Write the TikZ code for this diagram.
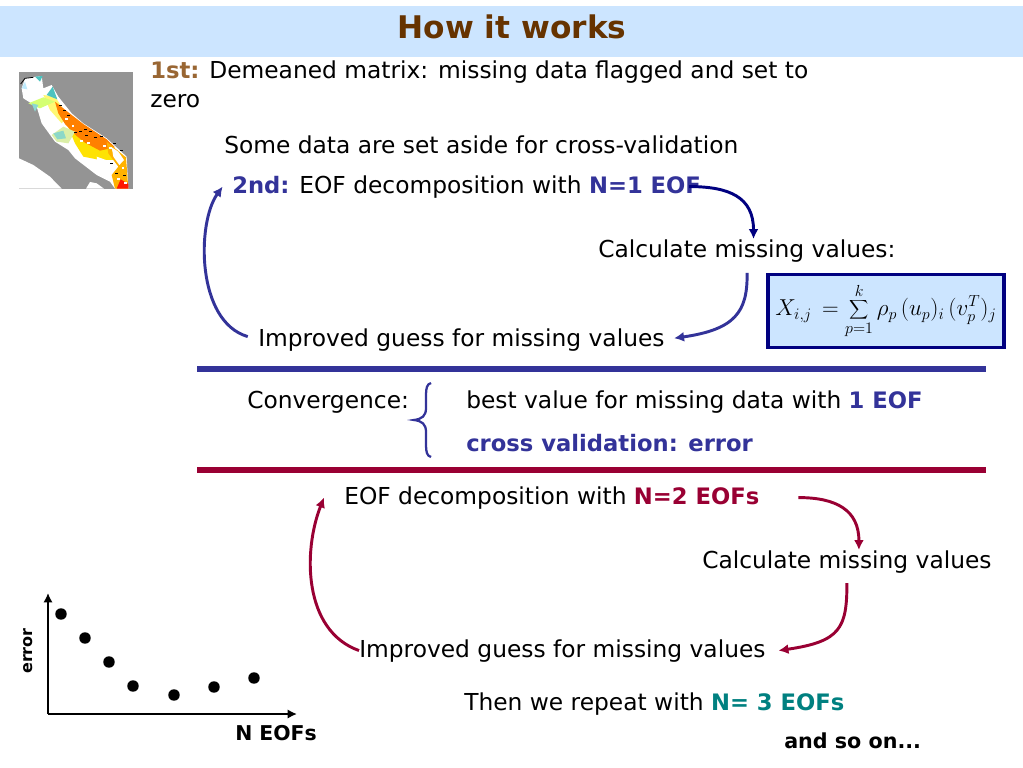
\documentclass[tikz,border=0pt]{standalone}
\usepackage{fontspec}
\setmainfont{DejaVu Sans}
\usepackage{xcolor}
\usetikzlibrary{positioning, arrows.meta}

\definecolor{barblue}{HTML}{CCE5FF}
\definecolor{titlebrown}{HTML}{663300}
\definecolor{firstbrown}{HTML}{996633}
\definecolor{loopblue}{HTML}{333399}
\definecolor{navyblue}{HTML}{000080}
\definecolor{loopred}{HTML}{990033}
\definecolor{tealgreen}{HTML}{008080}

\newcommand{\hl}[2]{\textcolor{#1}{\fontsize{17}{21.75}\selectfont\bfseries #2}}

\tikzset{
	txt/.style={inner sep=0pt, anchor=base west, font=\fontsize{17.5}{21.75}\selectfont},
	bluearrow/.style={loopblue, line width=2.2pt, -{Latex[length=7.5pt,width=7.5pt]}},
	redarrow/.style={loopred, line width=2.2pt, -{Latex[length=7.5pt,width=7.5pt]}},
	rulebar/.style={line width=3.8pt},
	dot/.style={circle, fill=black, inner sep=0pt, minimum size=8.6pt},
	axis/.style={line width=2.2pt, -{Latex[length=7pt,width=7pt]}},
	small/.style={inner sep=0pt, font=\fontsize{12}{14}\selectfont\bfseries}
}

\begin{document}
\begin{tikzpicture}[x=0.75pt, y=-0.75pt]
	\useasboundingbox (0,0) rectangle (1023,767);
	\fill[white] (0,0) rectangle (1023,767);

	% title bar
	\fill[barblue] (0,6) rectangle (1023,57);
	\node[inner sep=0pt, anchor=base, text=titlebrown, font=\fontsize{23.4}{28}\selectfont\bfseries] (title) at (512,39) {How it works};

	% map
	\begin{scope}[shift={(0,60)}, scale=1/3]
		\fill[black!42] (57,37) rectangle (398,386);
		\fill[white] (57,295) -- (100,315) -- (150,350) -- (185,386) -- (57,386) -- cycle;
		\fill[white] (258,386) -- (270,366) -- (290,370) -- (312,386) -- cycle;
		\fill[white] (65,85) -- (75,55) -- (125,48) -- (130,85) -- (155,75) -- (175,110) -- (215,160) -- (250,190) -- (320,235) -- (380,290) -- (385,386) -- (345,386) -- (330,365) -- (290,345) -- (225,295) -- (205,270) -- (165,245) -- (125,190) -- (110,140) -- (70,115) -- cycle;
		\fill[yellow!55!white] (130,105) -- (165,110) -- (205,170) -- (185,190) -- (150,150) -- cycle;
		\fill[yellow!85!orange] (200,190) -- (255,240) -- (320,262) -- (345,300) -- (300,300) -- (250,290) -- (225,250) -- cycle;
		\fill[orange] (165,125) -- (215,165) -- (250,192) -- (320,238) -- (345,262) -- (300,272) -- (255,248) -- (230,228) -- (195,192) -- (175,160) -- cycle;
		\fill[orange!60!yellow] (320,245) -- (378,292) -- (385,386) -- (345,386) -- (335,345) -- (355,320) -- (325,280) -- cycle;
		\fill[white] (335,262) -- (355,275) -- (372,300) -- (358,315) -- (340,290) -- cycle;
		\fill[white] (290,290) -- (318,300) -- (325,340) -- (295,325) -- cycle;
		\fill[red!80!orange] (350,386) -- (362,358) -- (385,372) -- (385,386) -- cycle;
		\fill[green!30!yellow!55] (85,130) -- (130,112) -- (165,125) -- (120,145) -- cycle;
		\fill[yellow!60!green!35] (155,225) -- (190,200) -- (225,215) -- (205,250) -- (170,245) -- cycle;
		\fill[cyan!50!green!45] (160,220) -- (190,212) -- (198,235) -- (172,238) -- cycle;
		\fill[cyan!60!green!45] (95,130) -- (115,135) -- (105,155) -- cycle;
		\fill[cyan!60!green!70] (140,105) -- (158,80) -- (172,118) -- cycle;
		\fill[cyan!60!green!70] (105,50) -- (128,48) -- (120,65) -- cycle;
		\fill[cyan!25] (65,85) -- (75,65) -- (82,88) -- cycle;
		\foreach \sx/\sy in {222/215, 238/212, 252/208, 268/212, 255/225, 282/232, 300/228, 200/165, 190/150, 178/135, 340/250, 360/270, 345/340, 370/345, 330/310}
			\fill[black] (\sx,\sy) rectangle +(9,3);
		\foreach \sx/\sy in {215/195, 262/245, 310/255, 328/262, 365/320, 352/355, 372/365, 240/240, 195/175}
			\fill[white] (\sx,\sy) rectangle +(8,6);
		\draw[black, line width=0.6pt] (62,72) -- (75,55) -- (100,52);
	\end{scope}

	% first loop
	\node[txt, align=left, anchor=north west] (first) at (150,61) {\hl{firstbrown}{1st:} Demeaned matrix: missing data flagged and set to\\zero};
	\node[txt] (aside) at (224,153) {Some data are set aside for cross-validation};
	\node[txt] (eofone) at (232,193) {\hl{loopblue}{2nd:} EOF decomposition with \hl{loopblue}{N=1 EOF}};
	\node[txt] (calcone) at (598,257) {Calculate missing values:};
	\node[txt] (guessone) at (258,346) {Improved guess for missing values};

	\draw[bluearrow, navyblue] ([xshift=-9pt]eofone.east) .. controls +(40,0) and +(0,-42) .. ([xshift=5pt]calcone.north);
	\draw[bluearrow, shorten <=8pt, shorten >=7pt] (calcone.south) .. controls +(1,50) and +(70,-10) .. (guessone.east);
	\draw[bluearrow, shorten <=8pt] (guessone.west) .. controls +(-62,-18) and +(-26,36) .. ([xshift=-7pt]eofone.west);

	% formula
	\node[draw=navyblue, fill=barblue, line width=2.6pt, minimum width=177pt, minimum height=55pt, inner sep=0pt, font=\fontsize{17}{19}\selectfont] (formula) at (886,311) {$\displaystyle X_{i,j}\,=\sum_{p=1}^{k}\rho_{p}\,(u_{p})_{i}\,(v_{p}^{T})_{j}$};

	\draw[rulebar, loopblue] (197,369) -- (986,369);

	% convergence
	\node[txt] (conv) at (247,408) {Convergence:};
	\node[txt] (best) at (466,408) {best value for missing data with \hl{loopblue}{1 EOF}};
	\node[txt] (cross) at (466,451) {\hl{loopblue}{cross validation: error}};
	\draw[loopblue, line width=1.7pt] (431,383) .. controls (427,384) and (426,388) .. (426,395) -- (426,408) .. controls (426,416) and (422,419) .. (414,420) .. controls (422,421) and (426,424) .. (426,432) -- (426,445) .. controls (426,452) and (427,456) .. (431,457);

	\draw[rulebar, loopred] (197,470) -- (986,470);

	% second loop
	\node[txt] (eoftwo) at (344,504) {EOF decomposition with \hl{loopred}{N=2 EOFs}};
	\node[txt] (calctwo) at (702,568) {Calculate missing values};
	\node[txt] (guesstwo) at (359,657) {Improved guess for missing values};

	\draw[redarrow] ([xshift=29pt]eoftwo.east) .. controls +(38,0) and +(0,-40) .. ([xshift=9pt]calctwo.north);
	\draw[redarrow, shorten <=7.5pt] (calctwo.south) .. controls +(0,55) and +(62,-9) .. ([xshift=9.5pt]guesstwo.east);
	\draw[redarrow] (guesstwo.west) .. controls +(-56,-20) and +(-21,53) .. ([xshift=-15pt]eoftwo.west);

	\node[txt] (repeat) at (464,710) {Then we repeat with \hl{tealgreen}{N= 3 EOFs}};
	\node[txt, font=\fontsize{15.5}{21.75}\selectfont\bfseries] (soon) at (784,748) {and so on...};

	% error plot
	\coordinate (origin) at (48,714);
	\coordinate (ytop) at (48,593);
	\coordinate (xend) at (297,714);
	\draw[axis] (origin) -- (ytop);
	\draw[axis] (origin) -- (xend);
	\foreach \i/\x/\y in {1/61/614, 2/85/638, 3/109/662, 4/133/686, 5/174/695, 6/214/687, 7/254/678}
		\node[dot] (d\i) at (\x,\y) {};
	\node[small, rotate=90] (ylab) at (28,651) {error};
	\node[small, anchor=base west, font=\fontsize{15.3}{16}\selectfont\bfseries] (xlab) at (235,740) {N EOFs};
\end{tikzpicture}
\end{document}
